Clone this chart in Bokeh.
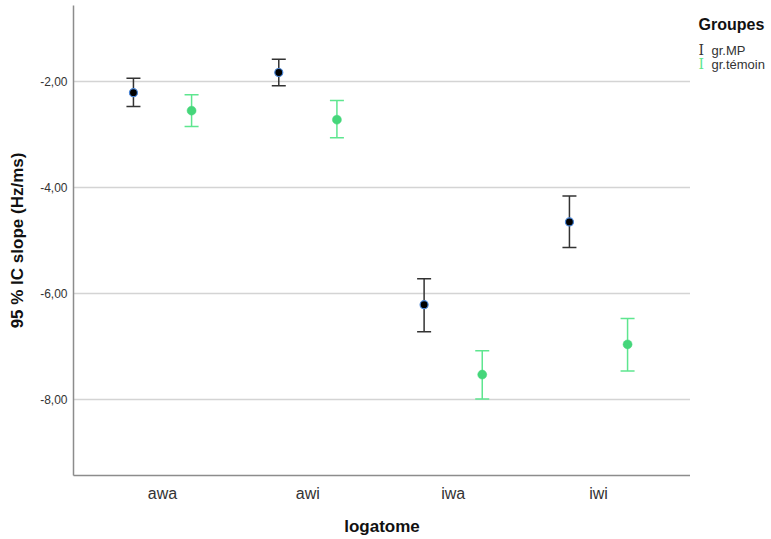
from bokeh.plotting import figure
from bokeh.layouts import row
from bokeh.models import ColumnDataSource, Whisker, TeeHead, FixedTicker, Range1d
from bokeh.core.properties import value
from bokeh.embed import file_html
from bokeh.resources import INLINE

categories = ["awa", "awi", "iwa", "iwi"]
mp_mean = [-2.21, -1.83, -6.21, -4.65]
mp_lower = [-2.47, -2.08, -6.72, -5.13]
mp_upper = [-1.94, -1.58, -5.72, -4.16]
tem_mean = [-2.55, -2.72, -7.53, -6.96]
tem_lower = [-2.85, -3.06, -7.99, -7.46]
tem_upper = [-2.25, -2.36, -7.08, -6.47]
y_ticks = [-2, -4, -6, -8]
y_tick_labels = ["-2,00", "-4,00", "-6,00", "-8,00"]
groups = ["gr.MP", "gr.témoin"]
legend_title = "Groupes"

offset = 0.2
xs = list(range(1, len(categories) + 1))

src_mp = ColumnDataSource(dict(x=[v - offset for v in xs], y=mp_mean, lo=mp_lower, up=mp_upper))
src_tem = ColumnDataSource(dict(x=[v + offset for v in xs], y=tem_mean, lo=tem_lower, up=tem_upper))

p = figure(width=690, height=539, output_backend="svg", toolbar_location=None,
           x_range=Range1d(0.3875, 4.633), y_range=Range1d(-9.434, -0.566),
           min_border_left=73, min_border_right=0, min_border_top=5, min_border_bottom=64)
p.outline_line_color = None
p.background_fill_color = "white"
p.border_fill_color = "white"

# grid
p.xgrid.visible = False
p.ygrid.ticker = FixedTicker(ticks=y_ticks)
p.ygrid.grid_line_color = "#d4d4d4"
p.ygrid.grid_line_width = 1.5

# axes
p.yaxis.ticker = FixedTicker(ticks=y_ticks)
p.yaxis.major_label_overrides = {t: l for t, l in zip(y_ticks, y_tick_labels)}
p.xaxis.ticker = FixedTicker(ticks=xs)
p.xaxis.major_label_overrides = {x: c for x, c in zip(xs, categories)}
for ax in (p.xaxis, p.yaxis):
    ax.axis_line_color = "#8c8c8c"
    ax.axis_line_width = 1.5
    ax.major_tick_line_color = None
    ax.minor_tick_line_color = None
    ax.major_tick_out = 0
    ax.major_tick_in = 0
    ax.major_label_text_font = "Liberation Sans"
    ax.major_label_text_color = "#333333"
    ax.axis_label_text_font = "Liberation Sans"
    ax.axis_label_text_font_style = "bold"
    ax.axis_label_text_color = "#111111"
p.yaxis.major_label_text_font_size = "12px"
p.xaxis.major_label_text_font_size = "16px"
p.yaxis.axis_label = "95 % IC slope (Hz/ms)"
p.xaxis.axis_label = "logatome"
p.yaxis.axis_label_text_font_size = "17px"
p.xaxis.axis_label_text_font_size = "17px"
p.xaxis.major_label_standoff = 9
p.xaxis.axis_label_standoff = 12
p.yaxis.major_label_standoff = 6
p.yaxis.axis_label_standoff = 10

mp_col = "#333333"
tem_col = "#5ee68f"

w1 = Whisker(source=src_mp, base="x", lower="lo", upper="up", dimension="height",
             line_color=mp_col, line_width=1.5,
             upper_head=TeeHead(size=14, line_color=mp_col, line_width=1.5),
             lower_head=TeeHead(size=14, line_color=mp_col, line_width=1.5))
w2 = Whisker(source=src_tem, base="x", lower="lo", upper="up", dimension="height",
             line_color=tem_col, line_width=1.5,
             upper_head=TeeHead(size=14, line_color=tem_col, line_width=1.5),
             lower_head=TeeHead(size=14, line_color=tem_col, line_width=1.5))
p.add_layout(w1)
p.add_layout(w2)

p.scatter("x", "y", source=src_mp, size=8, fill_color="black", line_color="#4a86d8", line_width=1.2)
p.scatter("x", "y", source=src_tem, size=9, fill_color="#45d67a", line_color="#45d67a", line_width=0.5)

# legend panel (pixel coordinates, y downward)
lg = figure(width=81, height=539, output_backend="svg", toolbar_location=None,
            x_range=Range1d(0, 81), y_range=Range1d(539, 0),
            min_border=0)
lg.axis.visible = False
lg.grid.visible = False
lg.outline_line_color = None
lg.background_fill_color = "white"
lg.border_fill_color = "white"

lg.text(x=[8], y=[22], text=[legend_title], text_font=value("Liberation Sans"),
        text_font_style="bold", text_font_size="16px", text_color="#111111",
        text_baseline="middle")
lg.text(x=[8, 8], y=[51, 67], text=["I", "I"], text_font=value("DejaVu Serif"),
        text_font_size="14px", text_color=[mp_col, tem_col], text_baseline="middle")
lg.text(x=[21, 21], y=[52, 68], text=groups, text_font=value("Liberation Sans"),
        text_font_size="13px", text_color="#333333", text_baseline="middle")

layout = row(p, lg, spacing=0)
open("out.html", "w").write(file_html(layout, INLINE))
